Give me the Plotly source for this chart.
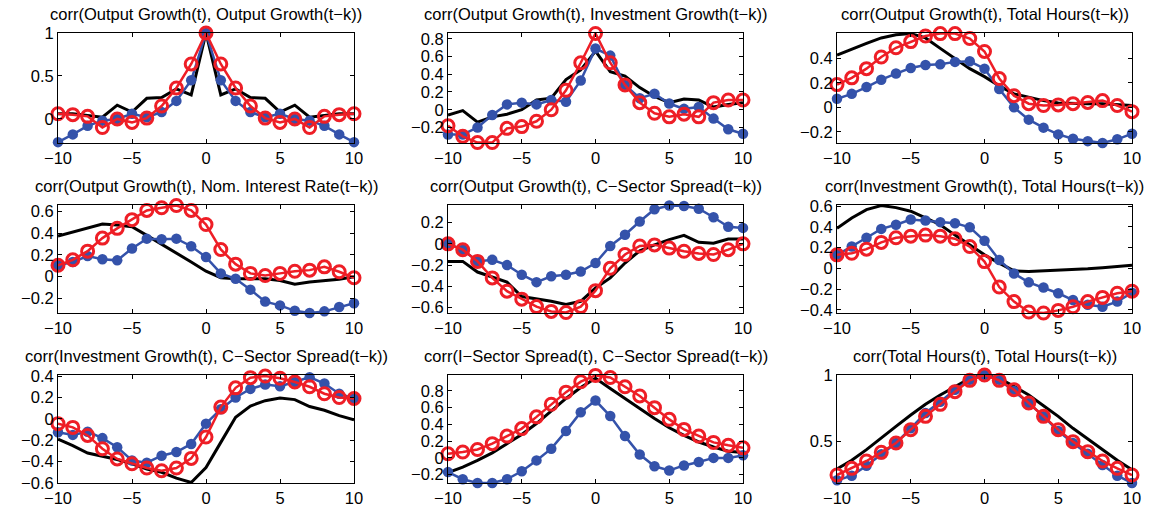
import plotly.graph_objects as go

lags = list(range(-10, 11))

titles = [
    "corr(Output Growth(t), Output Growth(t\u2212k))",
    "corr(Output Growth(t), Investment Growth(t\u2212k))",
    "corr(Output Growth(t), Total Hours(t\u2212k))",
    "corr(Output Growth(t), Nom. Interest Rate(t\u2212k))",
    "corr(Output Growth(t), C\u2212Sector Spread(t\u2212k))",
    "corr(Investment Growth(t), Total Hours(t\u2212k))",
    "corr(Investment Growth(t), C\u2212Sector Spread(t\u2212k))",
    "corr(I\u2212Sector Spread(t), C\u2212Sector Spread(t\u2212k))",
    "corr(Total Hours(t), Total Hours(t\u2212k))",
]

# black line (data)
black = [
    [0.06, 0.06, 0.04, 0.02, 0.16, 0.08, 0.24, 0.25, 0.35, 0.28, 1.0, 0.28, 0.35, 0.25, 0.24, 0.08, 0.16, 0.02, 0.04, 0.06, 0.06],
    [-0.06, -0.01, -0.14, -0.08, -0.05, 0.0, 0.11, 0.13, 0.34, 0.45, 0.66, 0.43, 0.38, 0.25, 0.15, 0.08, 0.12, 0.11, 0.03, 0.06, 0.08],
    [0.425, 0.475, 0.52, 0.565, 0.59, 0.6, 0.565, 0.48, 0.4, 0.315, 0.25, 0.175, 0.11, 0.08, 0.055, 0.035, 0.03, 0.03, 0.03, 0.02, 0.015],
    [0.375, 0.41, 0.45, 0.485, 0.475, 0.46, 0.38, 0.3, 0.22, 0.135, 0.05, -0.01, -0.02, -0.02, -0.02, -0.035, -0.07, -0.05, -0.035, -0.025, 0.0],
    [-0.165, -0.165, -0.265, -0.315, -0.36, -0.495, -0.515, -0.54, -0.57, -0.54, -0.415, -0.32, -0.18, -0.065, -0.01, 0.04, 0.08, 0.015, 0.005, 0.045, 0.045],
    [0.385, 0.485, 0.565, 0.605, 0.585, 0.55, 0.485, 0.42, 0.32, 0.225, 0.13, 0.05, -0.025, -0.03, -0.025, -0.02, -0.015, -0.005, 0.005, 0.015, 0.03],
    [-0.19, -0.25, -0.32, -0.35, -0.38, -0.42, -0.47, -0.5, -0.555, -0.595, -0.455, -0.22, 0.015, 0.12, 0.17, 0.195, 0.18, 0.115, 0.08, 0.03, -0.01],
    [-0.175, -0.11, -0.03, 0.06, 0.17, 0.28, 0.41, 0.56, 0.71, 0.84, 0.95, 0.83, 0.705, 0.59, 0.47, 0.36, 0.27, 0.19, 0.13, 0.08, 0.065],
    [0.295, 0.36, 0.44, 0.53, 0.615, 0.7, 0.78, 0.85, 0.915, 0.975, 1.0, 0.975, 0.915, 0.85, 0.77, 0.69, 0.6, 0.52, 0.44, 0.36, 0.29],
]

# blue filled circles (model 1)
blue = [
    [-0.27, -0.18, -0.08, -0.02, 0.0, 0.06, 0.02, 0.08, 0.21, 0.45, 1.0, 0.45, 0.21, 0.08, 0.02, 0.06, 0.0, -0.02, -0.08, -0.18, -0.27],
    [-0.28, -0.28, -0.2, -0.06, 0.06, 0.08, 0.06, 0.11, 0.09, 0.33, 0.69, 0.61, 0.28, 0.13, 0.18, 0.07, 0.01, 0.03, -0.1, -0.22, -0.27],
    [0.07, 0.11, 0.165, 0.225, 0.275, 0.32, 0.345, 0.35, 0.37, 0.375, 0.315, 0.15, 0.0, -0.1, -0.165, -0.22, -0.255, -0.275, -0.29, -0.26, -0.215],
    [0.105, 0.135, 0.19, 0.16, 0.15, 0.26, 0.35, 0.345, 0.35, 0.28, 0.18, 0.03, -0.02, -0.12, -0.23, -0.265, -0.315, -0.335, -0.32, -0.28, -0.245],
    [0.0, -0.055, -0.165, -0.15, -0.2, -0.29, -0.36, -0.305, -0.29, -0.26, -0.18, -0.02, 0.085, 0.21, 0.325, 0.36, 0.355, 0.33, 0.25, 0.16, 0.15],
    [0.13, 0.21, 0.295, 0.38, 0.42, 0.47, 0.46, 0.445, 0.435, 0.395, 0.265, 0.08, -0.05, -0.135, -0.185, -0.24, -0.305, -0.35, -0.37, -0.32, -0.235],
    [-0.125, -0.15, -0.12, -0.18, -0.265, -0.39, -0.41, -0.345, -0.31, -0.235, -0.045, 0.09, 0.2, 0.28, 0.32, 0.305, 0.345, 0.39, 0.33, 0.235, 0.19],
    [-0.17, -0.255, -0.3, -0.3, -0.255, -0.16, -0.03, 0.11, 0.32, 0.545, 0.685, 0.5, 0.26, 0.04, -0.1, -0.15, -0.09, -0.05, 0.0, 0.0, 0.03],
    [0.21, 0.245, 0.32, 0.405, 0.49, 0.6, 0.715, 0.8, 0.89, 0.965, 1.0, 0.965, 0.88, 0.79, 0.69, 0.58, 0.49, 0.41, 0.325, 0.245, 0.19],
]

# red open circles (model 2)
red = [
    [0.06, 0.05, 0.03, -0.1, 0.0, -0.04, 0.01, 0.15, 0.36, 0.64, 1.0, 0.64, 0.36, 0.15, 0.01, -0.04, 0.0, -0.1, 0.03, 0.05, 0.06],
    [-0.18, -0.3, -0.37, -0.37, -0.21, -0.19, -0.13, 0.0, 0.22, 0.53, 0.86, 0.53, 0.28, 0.08, -0.04, -0.08, -0.05, -0.08, 0.08, 0.11, 0.11],
    [0.185, 0.24, 0.315, 0.41, 0.485, 0.535, 0.58, 0.6, 0.6, 0.56, 0.455, 0.235, 0.095, 0.03, 0.015, 0.02, 0.03, 0.04, 0.055, 0.015, -0.035],
    [0.105, 0.155, 0.235, 0.355, 0.445, 0.525, 0.61, 0.635, 0.655, 0.61, 0.48, 0.25, 0.115, 0.03, 0.01, 0.03, 0.05, 0.06, 0.09, 0.045, -0.01],
    [0.0, -0.055, -0.165, -0.32, -0.445, -0.52, -0.59, -0.635, -0.645, -0.59, -0.44, -0.23, -0.1, -0.02, -0.01, -0.04, -0.07, -0.09, -0.1, -0.055, 0.0],
    [0.13, 0.145, 0.185, 0.25, 0.295, 0.31, 0.32, 0.31, 0.285, 0.21, 0.065, -0.18, -0.32, -0.42, -0.43, -0.405, -0.37, -0.32, -0.28, -0.24, -0.22],
    [-0.045, -0.08, -0.155, -0.28, -0.375, -0.42, -0.46, -0.485, -0.46, -0.37, -0.17, 0.11, 0.29, 0.385, 0.4, 0.38, 0.345, 0.3, 0.235, 0.2, 0.19],
    [0.05, 0.07, 0.1, 0.17, 0.26, 0.35, 0.49, 0.64, 0.785, 0.91, 0.985, 0.96, 0.85, 0.74, 0.6, 0.46, 0.34, 0.26, 0.185, 0.15, 0.12],
    [0.25, 0.3, 0.355, 0.42, 0.49, 0.59, 0.69, 0.78, 0.875, 0.96, 1.0, 0.96, 0.89, 0.79, 0.69, 0.59, 0.5, 0.425, 0.355, 0.3, 0.25],
]

y_ranges = [
    [-0.28, 1.0], [-0.375, 0.865], [-0.29, 0.605],
    [-0.335, 0.66], [-0.65, 0.365], [-0.43, 0.61],
    [-0.6, 0.41], [-0.3, 0.99], [0.19, 1.0],
]
y_ticks = [
    [0, 0.5, 1],
    [-0.2, 0, 0.2, 0.4, 0.6, 0.8],
    [-0.2, 0, 0.2, 0.4],
    [-0.2, 0, 0.2, 0.4, 0.6],
    [-0.6, -0.4, -0.2, 0, 0.2],
    [-0.4, -0.2, 0, 0.2, 0.4, 0.6],
    [-0.6, -0.4, -0.2, 0, 0.2, 0.4],
    [-0.2, 0, 0.2, 0.4, 0.6, 0.8],
    [0.5, 1],
]
x_ticks = [-10, -5, 0, 5, 10]

W, H = 1172, 510
col_px = [(58, 354), (448, 743), (837, 1132)]
row_px = [(33, 143), (205, 313), (375, 483)]

BLUE = "rgb(52,82,170)"
RED = "rgb(238,30,38)"
FONT = "Liberation Sans, Arial, sans-serif"
FS = 16.5

fig = go.Figure()
annotations = []
for i in range(9):
    r, c = divmod(i, 3)
    n = i + 1
    xa = "x" if n == 1 else f"x{n}"
    ya = "y" if n == 1 else f"y{n}"
    fig.add_trace(go.Scatter(x=lags, y=black[i], mode="lines", xaxis=xa, yaxis=ya,
                             line=dict(color="black", width=3), cliponaxis=False, showlegend=False))
    fig.add_trace(go.Scatter(x=lags, y=blue[i], mode="lines+markers", xaxis=xa, yaxis=ya,
                             line=dict(color=BLUE, width=2.5),
                             marker=dict(symbol="circle", size=10.5, color=BLUE, line=dict(width=0)),
                             cliponaxis=False, showlegend=False))
    fig.add_trace(go.Scatter(x=lags, y=red[i], mode="lines+markers", xaxis=xa, yaxis=ya,
                             line=dict(color=RED, width=2.5),
                             marker=dict(symbol="circle-open", size=12, color=RED, line=dict(width=3, color=RED)),
                             cliponaxis=False, showlegend=False))
    x0, x1 = col_px[c]
    y0, y1 = row_px[r]
    axcommon = dict(showline=True, linecolor="black", linewidth=1, mirror="ticks",
                    ticks="inside", ticklen=4, tickcolor="black", showgrid=False, zeroline=False,
                    automargin=False,
                    tickfont=dict(family=FONT, size=FS, color="black"))
    fig.layout[f"xaxis{'' if n == 1 else n}"] = dict(
        domain=[x0 / W, x1 / W], anchor=ya, range=[-10, 10], tickvals=x_ticks, **axcommon)
    fig.layout[f"yaxis{'' if n == 1 else n}"] = dict(
        domain=[1 - y1 / H, 1 - y0 / H], anchor=xa, range=y_ranges[i], tickvals=y_ticks[i], **axcommon)
    annotations.append(dict(text=titles[i], x=(x0 + x1) / 2 / W, y=1 - (y0 - 19) / H,
                            xref="paper", yref="paper", xanchor="center", yanchor="middle",
                            showarrow=False, font=dict(family=FONT, size=FS, color="black")))

fig.update_layout(width=W, height=H, margin=dict(l=0, r=0, t=0, b=0, pad=0, autoexpand=False),
                  template="none", showlegend=False,
                  paper_bgcolor="white", plot_bgcolor="white", annotations=annotations)
fig.write_html("out.html", config={"displayModeBar": False},
               post_script="document.body.style.margin='0px';document.body.style.overflow='hidden';")
